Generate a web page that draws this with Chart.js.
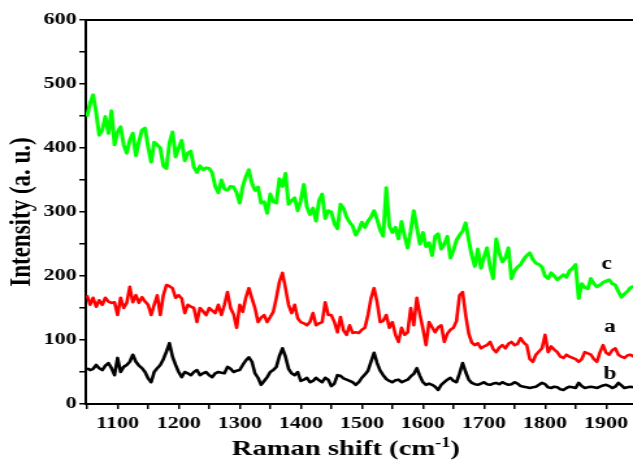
<!DOCTYPE html>
<html>
<head>
<meta charset="utf-8">
<script src="https://cdn.jsdelivr.net/npm/chart.js@4.4.1/dist/chart.umd.min.js"></script>
<style>
  html, body { margin: 0; padding: 0; background: #fff; overflow: hidden; }
</style>
</head>
<body>
<!-- the source figure is stretched sideways, so the canvas is drawn narrow and widened with css -->
<canvas id="spectra" width="487" height="468" style="width:633px;height:468px"></canvas>
<script>
// Raman shift grid, cm-1 (one reading every 5 cm-1)
const shiftStart = 1050;
const shiftStep = 5;

// curve a (red)
const curveA = [
  170, 155, 166, 152, 162, 155, 166, 160, 158, 159,
  139, 166, 150, 158, 183, 159, 170, 158, 167, 160,
  155, 139, 155, 170, 139, 170, 186, 184, 181, 166,
  170, 165, 142, 155, 152, 150, 128, 150, 145, 139,
  150, 146, 142, 155, 139, 155, 175, 150, 140, 119,
  155, 144, 166, 181, 165, 150, 128, 135, 139, 128,
  136, 144, 166, 191, 205, 181, 155, 142, 155, 134,
  128, 126, 123, 128, 142, 123, 126, 128, 159, 139,
  139, 128, 112, 136, 115, 108, 123, 111, 112, 111,
  116, 119, 139, 165, 181, 159, 128, 130, 139, 119,
  128, 108, 97, 119, 108, 112, 150, 123, 166, 140,
  118, 92, 128, 120, 112, 120, 123, 97, 110, 116,
  119, 130, 170, 175, 139, 110, 96, 92, 95, 87,
  90, 92, 97, 86, 81, 88, 92, 87, 94, 97,
  92, 94, 103, 96, 92, 70, 66, 77, 82, 87,
  108, 81, 90, 85, 81, 74, 72, 77, 74, 72,
  70, 66, 70, 81, 79, 77, 70, 66, 81, 92,
  80, 77, 84, 87, 77, 74, 72, 76, 77, 74
];

// curve b (black)
const curveB = [
  56, 53, 55, 61, 56, 53, 60, 64, 56, 45,
  72, 50, 58, 61, 66, 77, 66, 60, 56, 50,
  40, 34, 50, 56, 61, 70, 82, 95, 74, 61,
  50, 42, 50, 48, 45, 50, 53, 45, 48, 50,
  45, 42, 48, 50, 49, 48, 58, 55, 50, 52,
  53, 61, 68, 73, 66, 48, 41, 30, 36, 42,
  50, 53, 58, 75, 87, 74, 55, 48, 45, 50,
  36, 38, 41, 34, 36, 41, 37, 34, 41, 38,
  28, 32, 45, 44, 40, 38, 36, 34, 30, 34,
  41, 46, 52, 66, 80, 64, 52, 45, 39, 36,
  34, 37, 38, 34, 36, 38, 43, 47, 56, 44,
  34, 30, 32, 30, 27, 22, 30, 34, 38, 41,
  36, 34, 48, 64, 50, 38, 33, 31, 30, 32,
  34, 31, 30, 32, 33, 31, 34, 32, 30, 31,
  34, 32, 28, 27, 26, 25, 26, 27, 30, 33,
  31, 26, 25, 27, 26, 23, 22, 25, 27, 26,
  25, 33, 28, 25, 26, 27, 26, 25, 27, 29,
  30, 28, 25, 27, 33, 29, 25, 26, 27, 26
];

// curve c (green)
const curveC = [
  449, 470, 483, 455, 420, 428, 449, 423, 458, 405,
  425, 433, 405, 392, 412, 423, 388, 410, 428, 431,
  402, 378, 409, 405, 400, 372, 368, 408, 425, 386,
  400, 412, 380, 392, 395, 370, 362, 372, 366, 369,
  368, 361, 340, 330, 350, 336, 334, 340, 339, 330,
  314, 340, 355, 366, 345, 334, 339, 314, 316, 298,
  328, 316, 314, 352, 340, 360, 312, 318, 322, 302,
  318, 343, 308, 296, 306, 286, 318, 328, 290, 302,
  300, 282, 274, 312, 306, 292, 284, 278, 264, 272,
  284, 276, 286, 292, 302, 288, 272, 262, 338, 278,
  268, 276, 258, 285, 262, 244, 270, 302, 276, 250,
  268, 246, 252, 232, 262, 266, 242, 250, 262, 228,
  240, 256, 264, 270, 283, 256, 232, 215, 242, 212,
  230, 244, 214, 196, 258, 236, 222, 228, 244, 196,
  208, 214, 218, 226, 232, 236, 226, 220, 218, 214,
  200, 196, 205, 200, 194, 198, 202, 198, 208, 212,
  218, 165, 188, 182, 180, 196, 188, 183, 186, 190,
  192, 194, 188, 186, 176, 167, 172, 176, 182, 184
];

const curveNames = ['a', 'b', 'c'];
const curveColors = ['#ff0000', '#000000', '#00ff00'];
const curveWidths = [2.6, 2.6, 3];

const xTicks = [1050, 1100, 1150, 1200, 1250, 1300, 1350, 1400, 1450, 1500,
  1550, 1600, 1650, 1700, 1750, 1800, 1850, 1900];
const xTickLabels = [1100, 1200, 1300, 1400, 1500, 1600, 1700, 1800, 1900];
const yTicks = [0, 50, 100, 150, 200, 250, 300, 350, 400, 450, 500, 550, 600];
const yTickLabels = [0, 100, 200, 300, 400, 500, 600];

const ramanShift = [];
for (let i = 0; i < curveC.length; i++) {
  ramanShift.push(shiftStart + i * shiftStep);
}

const serif = '"Liberation Serif", "Times New Roman", serif';

// top frame line, x axis title with superscript, curve letters
const extras = {
  id: 'extras',
  afterDraw(chart) {
    const { ctx, chartArea, scales } = chart;
    ctx.save();
    ctx.strokeStyle = '#000';
    ctx.lineWidth = 2;
    ctx.beginPath();
    ctx.moveTo(chartArea.left - 1, chartArea.top);
    ctx.lineTo(chartArea.right, chartArea.top);
    ctx.stroke();

    // axis title
    ctx.fillStyle = '#000';
    ctx.textBaseline = 'alphabetic';
    ctx.textAlign = 'left';
    const big = 'bold 22px ' + serif;
    const small = 'bold 14px ' + serif;
    const head = 'Raman shift (cm', sup = '-1', tail = ')';
    ctx.font = big;
    const wHead = ctx.measureText(head).width;
    const wTail = ctx.measureText(tail).width;
    ctx.font = small;
    const wSup = ctx.measureText(sup).width;
    let tx = 266 - (wHead + wSup + wTail) / 2;
    const ty = 455;
    ctx.font = big;
    ctx.fillText(head, tx, ty);
    tx += wHead;
    ctx.font = small;
    ctx.fillText(sup, tx, ty - 8);
    tx += wSup;
    ctx.font = big;
    ctx.fillText(tail, tx, ty);

    // curve letters
    const spots = { a: [1906, 119], b: [1906, 46], c: [1901, 218] };
    ctx.font = 'bold 18px ' + serif;
    ctx.textAlign = 'center';
    ctx.textBaseline = 'middle';
    curveNames.forEach(n => {
      const [sx, sy] = spots[n];
      ctx.fillText(n, scales.x.getPixelForValue(sx), scales.y.getPixelForValue(sy));
    });
    ctx.restore();
  }
};

const tickFont = { family: serif, size: 17, weight: 'bold' };
const axisGrid = { drawOnChartArea: false, color: '#000', lineWidth: 1.5, tickLength: 5 };

new Chart(document.getElementById('spectra'), {
  type: 'line',
  data: {
    labels: ramanShift,
    datasets: [curveA, curveB, curveC].map((vals, i) => ({
      label: curveNames[i],
      data: vals,
      borderColor: curveColors[i],
      borderWidth: curveWidths[i],
      borderJoinStyle: 'round',
      pointRadius: 0,
      tension: 0,
      fill: false
    }))
  },
  options: {
    responsive: false,
    animation: false,
    devicePixelRatio: 1,
    layout: { padding: { top: 20, left: 0, right: 0, bottom: 0 } },
    plugins: { legend: { display: false }, tooltip: { enabled: false } },
    scales: {
      x: {
        type: 'linear',
        min: 1048,
        max: 1944,
        afterBuildTicks: axis => { axis.ticks = xTicks.map(v => ({ value: v })); },
        afterFit: axis => { axis.height = 64; axis.paddingLeft = 0; axis.paddingRight = 0; },
        ticks: {
          autoSkip: false, maxRotation: 0, padding: 4, color: '#000', font: tickFont,
          callback: v => xTickLabels.includes(v) ? String(v) : ''
        },
        grid: axisGrid,
        border: { color: '#000', width: 2 }
      },
      y: {
        min: 0,
        max: 600,
        afterBuildTicks: axis => { axis.ticks = yTicks.map(v => ({ value: v })); },
        afterFit: axis => { axis.width = 66; },
        ticks: {
          autoSkip: false, padding: 2, color: '#000', font: tickFont,
          callback: v => yTickLabels.includes(v) ? String(v) : ''
        },
        grid: axisGrid,
        border: { color: '#000', width: 2 },
        title: {
          display: true, text: 'Intensity (a. u.)', color: '#000',
          font: { family: serif, size: 23, weight: 'bold' },
          padding: { top: 3, bottom: 0 }
        }
      }
    }
  },
  plugins: [extras]
});
</script>
</body>
</html>
